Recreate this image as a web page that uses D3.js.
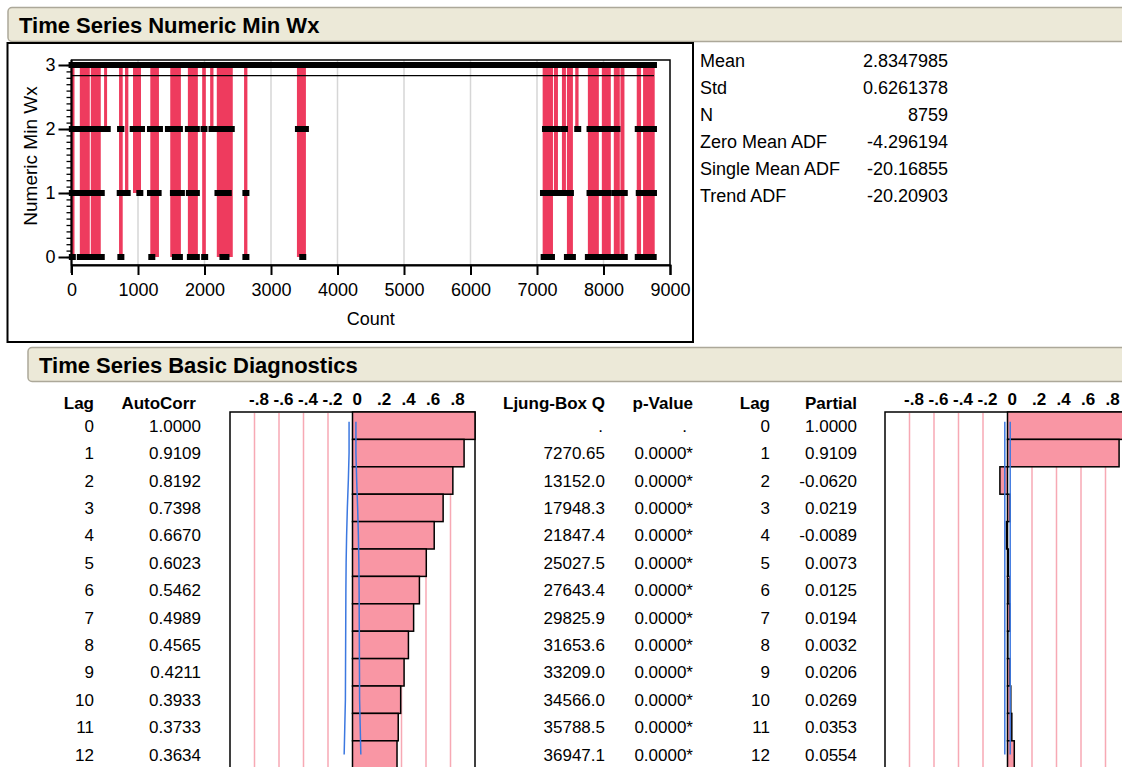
<!DOCTYPE html>
<head>
<meta charset="utf-8">
<style>
  body { margin:0; background:#fff; }
  svg { display:block; font-family:"Liberation Sans", Arial, sans-serif; }
  .hdr rect { fill:#ECE9D8; stroke:#ACA899; stroke-width:1.5px; }
  .hdr text { font-weight:bold; font-size:22px; fill:#000; }
  .axis text { font-size:18px; }
  .stat text { font-size:18px; }
  .tbl text { font-size:17px; }
  .tbl text.head { font-weight:bold; }
  .corrtick { font-weight:bold; font-size:17px; }
</style>
<script src="https://d3js.org/d3.v7.min.js"></script>
</head>

<body>
<script>

var width = 1122;
var height = 767;

// ---- top: time series of Numeric Min Wx ----
var nObs = 8759;
var meanVal = 2.8347985;
var xTicks = [0, 1000, 2000, 3000, 4000, 5000, 6000, 7000, 8000, 9000];
var yTicks = [0, 1, 2, 3];

// dips below 3: [first count, last count, lowest value]
var dips = [
  [5, 30, 0], [140, 260, 0], [305, 425, 0], [505, 520, 2], [730, 755, 0],
  [820, 840, 1], [940, 1030, 1], [1200, 1300, 0], [1500, 1630, 0], [1765, 1885, 0],
  [1980, 2005, 0], [2100, 2120, 2], [2200, 2410, 0], [2610, 2630, 0], [3405, 3510, 0],
  [7100, 7225, 0], [7270, 7300, 1], [7390, 7420, 1], [7465, 7525, 0], [7590, 7610, 2],
  [7780, 7915, 0], [7990, 8095, 0], [8170, 8230, 0], [8270, 8300, 0], [8515, 8550, 0],
  [8610, 8755, 0]
];
// runs of observations at a level: [first count, last count]
var runs2 = [[5, 545], [730, 750], [920, 1060], [1180, 1330], [1450, 1630], [1750, 1885],
  [1985, 2000], [2105, 2120], [2200, 2410], [3405, 3525], [7120, 7315], [7405, 7420],
  [7605, 7620], [7790, 7930], [7975, 8125], [8195, 8210], [8515, 8759]];
var runs1 = [[5, 80], [125, 455], [725, 845], [1020, 1035], [1180, 1310], [1525, 1660],
  [1765, 1885], [2195, 2210], [2285, 2365], [2615, 2630], [7090, 7315], [7390, 7510],
  [7790, 7930], [7990, 8080], [8170, 8320], [8530, 8759]];
var runs0 = [[5, 20], [125, 455], [735, 750], [1200, 1215], [1555, 1630], [1780, 1885],
  [1995, 2010], [2270, 2330], [2615, 2630], [3470, 3485], [7100, 7225], [7450, 7540],
  [7765, 7930], [7990, 8125], [8140, 8320], [8515, 8755]];

var statLabels = ["Mean", "Std", "N", "Zero Mean ADF", "Single Mean ADF", "Trend ADF"];
var statValues = ["2.8347985", "0.6261378", "8759", "-4.296194", "-20.16855", "-20.20903"];

// ---- bottom: diagnostics ----
var lags = [0, 1, 2, 3, 4, 5, 6, 7, 8, 9, 10, 11, 12];
var autoCorr = [1.0000, 0.9109, 0.8192, 0.7398, 0.6670, 0.6023, 0.5462, 0.4989, 0.4565, 0.4211, 0.3933, 0.3733, 0.3634];
var ljungQ = [".", "7270.65", "13152.0", "17948.3", "21847.4", "25027.5", "27643.4", "29825.9", "31653.6", "33209.0", "34566.0", "35788.5", "36947.1"];
var pValue = [".", "0.0000*", "0.0000*", "0.0000*", "0.0000*", "0.0000*", "0.0000*", "0.0000*", "0.0000*", "0.0000*", "0.0000*", "0.0000*", "0.0000*"];
var partial = [1.0000, 0.9109, -0.0620, 0.0219, -0.0089, 0.0073, 0.0125, 0.0194, 0.0032, 0.0206, 0.0269, 0.0353, 0.0554];
var acfLimit = [0.028, 0.028, 0.034, 0.042, 0.048, 0.052, 0.054, 0.055, 0.056, 0.057, 0.058, 0.063, 0.068];
var pacfLimit = [0.022, 0.022, 0.022, 0.022, 0.022, 0.022, 0.022, 0.022, 0.022, 0.022, 0.022, 0.022, 0.022];
var corrTicks = [-0.8, -0.6, -0.4, -0.2, 0, 0.2, 0.4, 0.6, 0.8];
var corrTickLabels = ["-.8", "-.6", "-.4", "-.2", "0", ".2", ".4", ".6", ".8"];

var red = "#EE3B5E";
var pink = "#F996A4";
var gridPink = "#F7A9B4";
var blue = "#3C78E0";

var svg = d3.select("body").append("svg")
    .attr("width", width)
    .attr("height", height);

function header(x, y, label) {
  var g = svg.append("g").attr("class", "hdr");
  g.append("rect").attr("x", x).attr("y", y).attr("width", width - x + 20).attr("height", 34)
    .attr("rx", 4);
  g.append("text").attr("x", x + 11).attr("y", y + 25).text(label);
}

header(8, 7.5, "Time Series Numeric Min Wx");

// outer box of the plot
svg.append("rect")
    .attr("x", 7.5).attr("y", 43).attr("width", 685.5).attr("height", 299)
    .attr("fill", "none").attr("stroke", "#000").attr("stroke-width", 2);

var x = d3.scaleLinear().domain([0, 9000]).range([71.5, 670]);
var y = d3.scaleLinear().domain([0, 3]).range([257, 65]);
var plotTop = 60, plotBottom = 265;

var plot = svg.append("g");

plot.selectAll("line.grid")
  .data(xTicks.slice(1, -1))
  .enter().append("line")
    .attr("x1", function(d) { return x(d); })
    .attr("x2", function(d) { return x(d); })
    .attr("y1", plotTop).attr("y2", plotBottom)
    .attr("stroke", "#D6D6D6").attr("stroke-width", 1.5);

plot.selectAll("rect.dip")
  .data(dips)
  .enter().append("rect")
    .attr("x", function(d) { return x(d[0]) - 1; })
    .attr("width", function(d) { return Math.max(2.5, x(d[1]) - x(d[0]) + 2); })
    .attr("y", y(3))
    .attr("height", function(d) { return y(d[2]) - y(3); })
    .attr("fill", red);

function drawRuns(data, level) {
  plot.selectAll(null)
    .data(data)
    .enter().append("rect")
      .attr("x", function(d) { return x(d[0]) - 3; })
      .attr("width", function(d) { return x(d[1]) - x(d[0]) + 6; })
      .attr("y", y(level) - 3)
      .attr("height", 6)
      .attr("fill", "#000");
}
drawRuns(runs2, 2);
drawRuns(runs1, 1);
drawRuns(runs0, 0);
drawRuns([[1, nObs]], 3);

// mean line
plot.append("line")
    .attr("x1", x(1)).attr("x2", x(nObs))
    .attr("y1", y(meanVal)).attr("y2", y(meanVal))
    .attr("stroke", "#000").attr("stroke-width", 1.3);

// frame
plot.append("rect")
    .attr("x", x(0)).attr("y", plotTop)
    .attr("width", x(9000) - x(0)).attr("height", plotBottom - plotTop)
    .attr("fill", "none").attr("stroke", "#000").attr("stroke-width", 1.5);

var xAxis = svg.append("g").attr("class", "axis")
    .attr("transform", "translate(0," + plotBottom + ")")
    .call(d3.axisBottom(x).tickValues(xTicks).tickSize(10).tickPadding(8).tickFormat(d3.format("d")));
xAxis.select(".domain").attr("stroke-width", 2);
xAxis.selectAll(".tick line").attr("stroke-width", 2);
xAxis.selectAll("text").attr("font-family", null).attr("fill", "#000");

var yMinor = svg.append("g")
    .attr("transform", "translate(" + x(0) + ",0)")
    .call(d3.axisLeft(y).ticks(30).tickSize(5).tickFormat(""));
yMinor.select(".domain").remove();
yMinor.selectAll(".tick line").attr("stroke-width", 1.3);

var yAxis = svg.append("g").attr("class", "axis")
    .attr("transform", "translate(" + x(0) + ",0)")
    .call(d3.axisLeft(y).tickValues(yTicks).tickSize(13).tickPadding(3).tickFormat(d3.format("d")));
yAxis.select(".domain").attr("d", "M0," + plotTop + "V" + (plotBottom + 8)).attr("stroke-width", 2);
yAxis.selectAll(".tick line").attr("stroke-width", 2);
yAxis.selectAll("text").attr("font-family", null).attr("fill", "#000");

svg.append("text")
    .attr("transform", "translate(37,156) rotate(-90)")
    .attr("text-anchor", "middle")
    .attr("font-size", 19)
    .text("Numeric Min Wx");

svg.append("text")
    .attr("x", (x(0) + x(9000)) / 2).attr("y", 325)
    .attr("text-anchor", "middle")
    .attr("font-size", 18)
    .text("Count");

// summary statistics
var stat = svg.append("g").attr("class", "stat");
stat.selectAll("text.lbl")
  .data(statLabels)
  .enter().append("text")
    .attr("x", 700)
    .attr("y", function(d, i) { return 67 + i * 27; })
    .text(function(d) { return d; });
stat.selectAll("text.val")
  .data(statValues)
  .enter().append("text")
    .attr("x", 948)
    .attr("y", function(d, i) { return 67 + i * 27; })
    .attr("text-anchor", "end")
    .text(function(d) { return d; });

// ---- Basic Diagnostics ----
header(28, 347.5, "Time Series Basic Diagnostics");

var rowTop = 412;
var rowH = 27.4;
var row = d3.scaleBand().domain(lags).range([rowTop, rowTop + rowH * lags.length]);
function rowMid(i) { return row(i) + rowH / 2; }

var tbl = svg.append("g").attr("class", "tbl");
var headY = 409;
var cols = [
  { name: "Lag", right: 94, vals: lags },
  { name: "AutoCorr", right: 201, vals: autoCorr.map(function(v) { return v.toFixed(4); }) },
  { name: "Ljung-Box Q", right: 605, vals: ljungQ },
  { name: "p-Value", right: 693, vals: pValue },
  { name: "Lag", right: 770, vals: lags },
  { name: "Partial", right: 857, vals: partial.map(function(v) { return v.toFixed(4); }) }
];
cols.forEach(function(c) {
  tbl.append("text").attr("class", "head")
    .attr("x", c.right - (c.name === "AutoCorr" ? 5 : 0)).attr("y", headY)
    .attr("text-anchor", "end").text(c.name);
  tbl.selectAll(null)
    .data(c.vals)
    .enter().append("text")
      .attr("x", function(d) { return d === "." ? (c.name === "p-Value" ? c.right - 6 : c.right - 2) : c.right; })
      .attr("y", function(d, i) { return rowMid(i) + 6; })
      .attr("text-anchor", "end")
      .text(function(d) { return d; });
});

function corrChart(left, values, limits) {
  var cx = d3.scaleLinear().domain([-1, 1]).range([left, left + 245]);
  var g = svg.append("g");
  g.append("rect")
    .attr("x", cx(-1)).attr("y", rowTop)
    .attr("width", cx(1) - cx(-1)).attr("height", height - rowTop + 10)
    .attr("fill", "#fff").attr("stroke", "#000").attr("stroke-width", 1.5);
  g.selectAll("line.grid")
    .data(corrTicks.filter(function(d) { return d !== 0; }))
    .enter().append("line")
      .attr("x1", function(d) { return cx(d); })
      .attr("x2", function(d) { return cx(d); })
      .attr("y1", rowTop + 1).attr("y2", height)
      .attr("stroke", gridPink).attr("stroke-width", 1.5);
  g.selectAll("rect.bar")
    .data(values)
    .enter().append("rect")
      .attr("x", function(d) { return cx(Math.min(0, d)); })
      .attr("width", function(d) { return Math.abs(cx(d) - cx(0)); })
      .attr("y", function(d, i) { return row(i); })
      .attr("height", rowH)
      .attr("fill", pink).attr("stroke", "#000").attr("stroke-width", 1.5);
  var upper = d3.line()
    .x(function(d) { return cx(d); })
    .y(function(d, i) { return rowMid(i) - (i === 0 ? 4 : 0); });
  var lower = d3.line()
    .x(function(d) { return cx(-d); })
    .y(function(d, i) { return rowMid(i) - (i === 0 ? 4 : 0); });
  g.append("path").attr("d", upper(limits)).attr("fill", "none").attr("stroke", blue).attr("stroke-width", 1.5);
  g.append("path").attr("d", lower(limits)).attr("fill", "none").attr("stroke", blue).attr("stroke-width", 1.5);
  g.selectAll("text.t")
    .data(corrTicks)
    .enter().append("text")
      .attr("class", "corrtick")
      .attr("x", function(d) { return cx(d) + (d < 0 ? -5.5 : 0); })
      .attr("y", 405)
      .text(function(d, i) { return corrTickLabels[i]; });
}

corrChart(230, autoCorr, acfLimit);
corrChart(885, partial, pacfLimit);

</script>
</body>
